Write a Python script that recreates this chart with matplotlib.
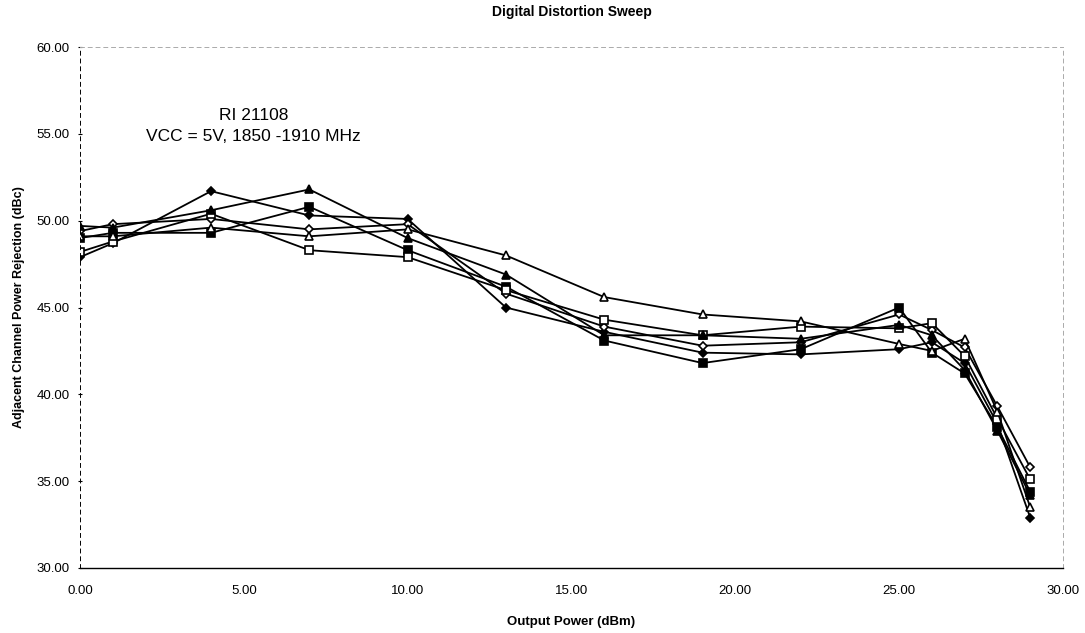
import numpy as np
import matplotlib.pyplot as plt

plt.rcParams['font.family'] = ['Liberation Sans', 'DejaVu Sans']

power = [0, 1, 4, 7, 10, 13, 16, 19, 22, 25, 26, 27, 28, 29]

acpr_1 = [47.9, 48.7, 51.7, 50.3, 50.1, 45.0, 43.6, 42.4, 42.3, 42.6, 43.0, 41.8, 38.3, 32.9]
acpr_2 = [49.4, 49.8, 50.1, 49.5, 49.8, 45.8, 43.9, 42.8, 43.0, 44.6, 43.7, 42.7, 39.3, 35.8]
acpr_3 = [49.0, 49.3, 49.3, 50.8, 48.3, 46.2, 43.1, 41.8, 42.6, 45.0, 42.4, 41.2, 38.1, 34.4]
acpr_4 = [48.2, 48.8, 50.4, 48.3, 47.9, 46.0, 44.3, 43.4, 43.9, 43.8, 44.1, 42.2, 38.6, 35.1]
acpr_5 = [49.7, 49.6, 50.6, 51.8, 49.0, 46.9, 43.4, 43.4, 43.2, 44.0, 43.4, 41.4, 37.9, 34.2]
acpr_6 = [49.1, 49.1, 49.6, 49.1, 49.5, 48.0, 45.6, 44.6, 44.2, 42.9, 42.5, 43.2, 39.0, 33.5]

series = [acpr_1, acpr_2, acpr_3, acpr_4, acpr_5, acpr_6]
markers = ['D', 'D', 's', 's', '^', '^']
fills = ['black', 'white', 'black', 'white', 'black', 'white']
sizes = [4.5, 4.5, 5.5, 5.5, 6, 6]

fig = plt.figure(figsize=(10.85, 6.33), dpi=100)
ax = fig.add_axes([0.0737, 0.1027, 0.906, 0.823])

for vals, m, fc, ms in zip(series, markers, fills, sizes):
    ax.plot(power, vals, color='black', linewidth=1.3, marker=m, markersize=ms,
            markerfacecolor=fc, markeredgecolor='black', markeredgewidth=1.2)

ax.set_xlim(0, 30)
ax.set_ylim(30, 60)
xt = np.arange(0, 31, 5)
yt = np.arange(30, 61, 5)
ax.set_xticks(xt)
ax.set_xticklabels(['%.2f' % v for v in xt], fontsize=9.5)
ax.set_yticks(yt)
ax.set_yticklabels(['%.2f' % v for v in yt], fontsize=9.5)
ax.tick_params(axis='x', length=0, pad=12)
ax.tick_params(axis='y', length=3, direction='inout', pad=6)

for side in ['left', 'top', 'right']:
    ax.spines[side].set_linestyle((0, (4, 4)))
    ax.spines[side].set_linewidth(0.7)
ax.spines['top'].set_color('#aaaaaa')
ax.spines['right'].set_color('#aaaaaa')
ax.spines['bottom'].set_linewidth(1.0)

ax.set_title('Digital Distortion Sweep', fontsize=10, fontweight='bold', pad=22)
ax.set_xlabel('Output Power (dBm)', fontsize=9.5, fontweight='bold', labelpad=14)
ax.set_ylabel('Adjacent Channel Power Rejection (dBc)', fontsize=9, fontweight='bold', labelpad=8)

ax.text(5.3, 55.45, 'RI 21108\nVCC = 5V, 1850 -1910 MHz', ha='center', va='center',
        fontsize=12.5, linespacing=1.5)

fig.savefig('out.png', dpi=100)
